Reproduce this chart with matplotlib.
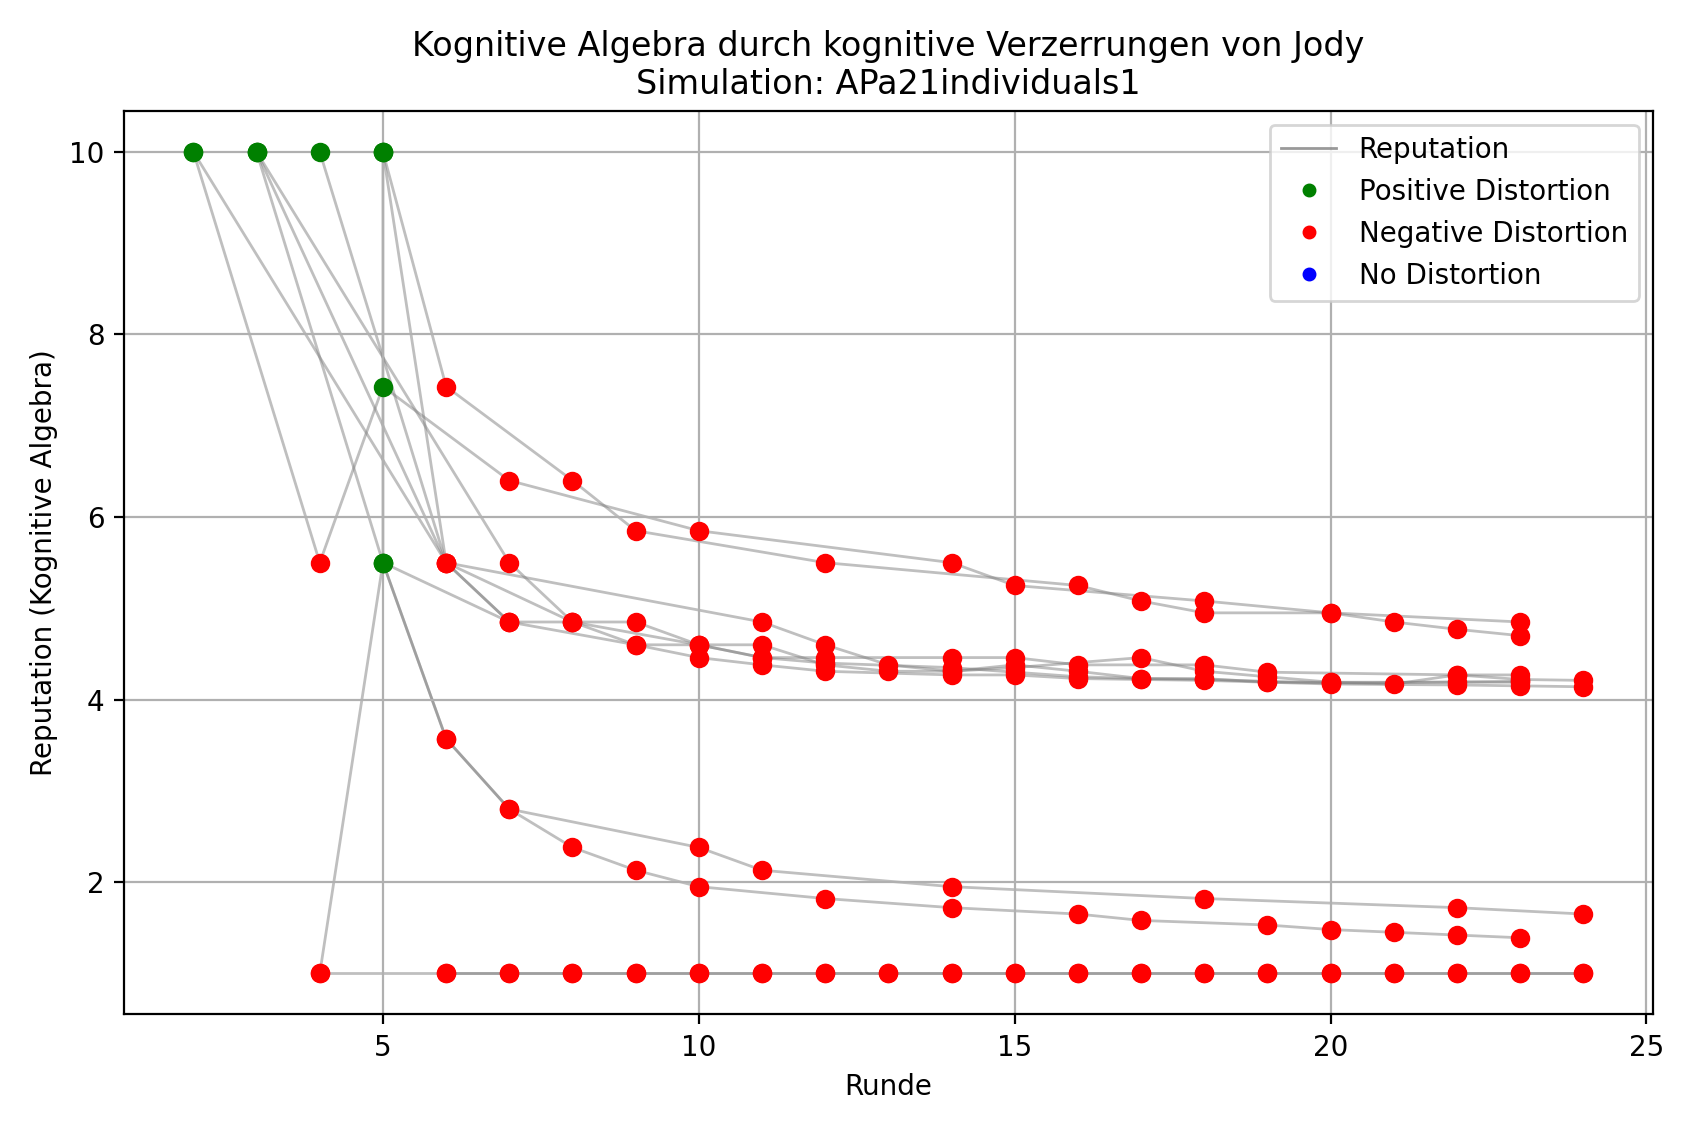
import matplotlib
matplotlib.use("Agg")
import matplotlib.pyplot as plt
from matplotlib.lines import Line2D

series = [
    [(2,10),(4,5.5),(5,7.43),(7,6.4),(10,5.85),(14,5.5),(15,5.25),(18,5.08),(20,4.95),(23,4.85)],
    [(5,10),(6,7.43),(8,6.4),(9,5.85),(12,5.5),(16,5.25),(17,5.08),(18,4.95),(20,4.95),(21,4.85),(22,4.77),(23,4.7)],
    [(3,10),(6,5.5),(7,4.85),(8,4.85),(9,4.6),(10,4.6),(11,4.46),(12,4.46),(14,4.46),(15,4.46),(16,4.38),(18,4.38),(19,4.3),(22,4.27),(23,4.27)],
    [(3,10),(5,5.5),(6,3.57),(7,2.8),(10,2.38),(11,2.13),(14,1.95),(18,1.82),(22,1.72),(24,1.65)],
    [(5,10),(6,5.5),(7,4.85),(9,4.6),(10,4.46),(11,4.38),(12,4.31),(14,4.27),(15,4.27),(16,4.23),(18,4.21),(19,4.19),(20,4.17),(22,4.16),(23,4.15),(24,4.14)],
    [(4,1),(5,5.5),(6,3.57),(7,2.8),(8,2.38),(9,2.13),(10,1.95),(12,1.82),(14,1.72),(16,1.65),(17,1.58),(19,1.53),(20,1.48),(21,1.45),(22,1.42),(23,1.39)],
    [(4,1),(6,1),(7,1),(8,1),(9,1),(10,1),(11,1),(12,1),(13,1),(14,1),(15,1),(16,1),(17,1),(18,1),(19,1),(20,1),(21,1),(22,1),(23,1),(24,1)],
    [(6,1),(7,1),(8,1),(9,1),(10,1),(11,1),(12,1),(13,1),(14,1),(15,1),(16,1),(17,1),(18,1),(19,1),(20,1),(21,1),(22,1),(23,1),(24,1)],
    [(4,10),(6,5.5),(11,4.85),(12,4.6),(13,4.38),(14,4.31),(15,4.38),(16,4.31),(17,4.23),(18,4.23),(19,4.19),(20,4.19),(21,4.17),(22,4.27),(23,4.22),(24,4.21)],
    [(2,10),(6,5.5),(8,4.85),(9,4.85),(10,4.6),(11,4.6),(12,4.38),(13,4.31),(14,4.31),(15,4.35),(17,4.46),(18,4.31),(19,4.25),(20,4.19),(22,4.19),(23,4.19)],
    [(3,10),(7,5.5),(8,4.85),(10,4.6),(11,4.46),(12,4.4),(14,4.35),(15,4.3),(16,4.25),(17,4.23),(18,4.22),(20,4.18),(23,4.2)],
    [(5,10),(5,5.5),(7,4.85)],
]
positive_points = {(2,10),(3,10),(4,10),(5,10),(5,7.43),(5,5.5)}

fig, ax = plt.subplots(figsize=(8.475, 5.655), dpi=200)
for s in series:
    xs = [p[0] for p in s]; ys = [p[1] for p in s]
    ax.plot(xs, ys, color="gray", alpha=0.5, lw=1.0, zorder=1)
for s in series:
    for p in s:
        c = "green" if p in positive_points else "red"
        ax.plot(p[0], p[1], "o", color=c, ms=6, zorder=3)

ax.set_title("Kognitive Algebra durch kognitive Verzerrungen von Jody\nSimulation: APa21individuals1")
ax.set_xlabel("Runde")
ax.set_ylabel("Reputation (Kognitive Algebra)")
ax.set_xlim(0.9, 25.1)
ax.set_ylim(0.55, 10.45)
ax.set_xticks([5,10,15,20,25])
ax.set_yticks([2,4,6,8,10])
ax.grid(True)
handles = [Line2D([],[],color="gray",alpha=0.8,lw=1.0,label="Reputation"),
           Line2D([],[],ls="",marker="o",color="green",ms=4,label="Positive Distortion"),
           Line2D([],[],ls="",marker="o",color="red",ms=4,label="Negative Distortion"),
           Line2D([],[],ls="",marker="o",color="blue",ms=4,label="No Distortion")]
ax.legend(handles=handles, loc="upper right")
fig.tight_layout()
fig.savefig("out.png")
